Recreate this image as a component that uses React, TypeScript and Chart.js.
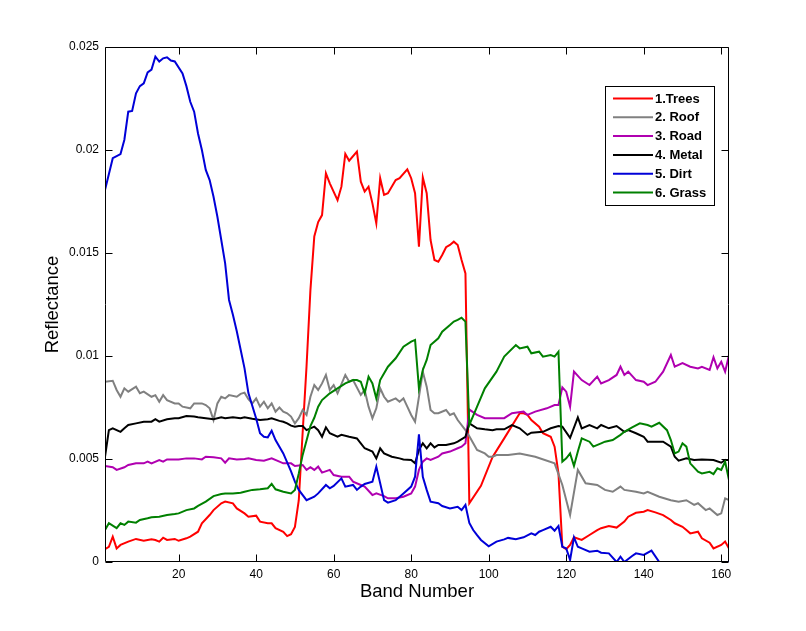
import React, { useEffect, useRef } from "react";
import { Chart, registerables } from "chart.js";

Chart.register(...registerables);

// ---- data (band number, reflectance) ----
const X_TICKS = [20, 40, 60, 80, 100, 120, 140, 160];
const Y_TICKS = [0, 0.005, 0.01, 0.015, 0.02, 0.025];
const X_LABEL = "Band Number";
const Y_LABEL = "Reflectance";
const SERIES_NAMES = ["1.Trees", "2. Roof", "3. Road", "4. Metal", "5. Dirt", "6. Grass"];
const SERIES_COLORS = ["#ff0000", "#808080", "#b000b0", "#000000", "#0000d8", "#008000"];

const TREES: [number, number][] = [
  [1, 0.00062], [2, 0.00074], [3, 0.00123], [4, 0.00066], [5, 0.00083], [7, 0.00099], [9, 0.00112], [11, 0.00103],
  [13, 0.0011], [14, 0.00107], [15, 0.00099], [16, 0.00118], [17, 0.00107], [19, 0.00112], [20, 0.00103], [22, 0.00115],
  [23, 0.00123], [25, 0.00147], [26, 0.00188], [28, 0.00228], [29, 0.00252], [31, 0.00285], [32, 0.00293], [34, 0.00285],
  [35, 0.0026], [37, 0.00236], [38, 0.0022], [40, 0.00225], [41, 0.00196], [43, 0.00188], [44, 0.00188], [45, 0.00164],
  [47, 0.00147], [48, 0.00126], [49, 0.00135], [50, 0.0017], [51, 0.003], [52, 0.0063], [53, 0.0095], [54, 0.0132],
  [55, 0.0158], [56, 0.0165], [57, 0.01684], [58, 0.01887], [59, 0.01838], [61, 0.01757], [62, 0.01822], [63, 0.01981],
  [64, 0.01948], [66, 0.01992], [67, 0.01846], [68, 0.01798], [69, 0.01822], [70, 0.01741], [71, 0.01644], [72, 0.01863],
  [73, 0.01782], [74, 0.0179], [76, 0.01854], [77, 0.01863], [79, 0.01906], [80, 0.01863], [81, 0.0179], [82, 0.01531],
  [83, 0.01867], [84, 0.0179], [85, 0.01563], [86, 0.01466], [87, 0.01458], [88, 0.0149], [89, 0.01528], [90, 0.01539],
  [91, 0.01555], [92, 0.01539], [93, 0.01466], [94, 0.01401], [95, 0.00285], [98, 0.0037], [101, 0.0051], [104, 0.006],
  [108, 0.00722], [109, 0.00722], [110, 0.00714], [111, 0.00689], [113, 0.00657], [114, 0.00625], [116, 0.00608], [117, 0.0056],
  [118, 0.0043], [119, 0.00074], [120, 0.00062], [121, 0.00083], [122, 0.0012], [124, 0.00107], [126, 0.00131], [128, 0.00155],
  [129, 0.00164], [131, 0.00175], [133, 0.00167], [135, 0.00196], [136, 0.0022], [138, 0.00239], [140, 0.00244], [141, 0.00252],
  [143, 0.00241], [145, 0.00228], [147, 0.00204], [148, 0.00188], [150, 0.00171], [151, 0.00155], [152, 0.00139], [154, 0.00147],
  [155, 0.00115], [157, 0.00094], [158, 0.00066], [160, 0.00083], [161, 0.00099], [162, 0.00066],
];

const ROOF: [number, number][] = [
  [1, 0.00875], [3, 0.0088], [4, 0.00835], [5, 0.00802], [6, 0.00843], [7, 0.00827], [9, 0.00851], [10, 0.00819],
  [11, 0.00827], [13, 0.00802], [14, 0.0081], [15, 0.00778], [16, 0.0081], [17, 0.00786], [19, 0.0077], [20, 0.0077],
  [21, 0.00754], [23, 0.00746], [24, 0.0077], [26, 0.0077], [27, 0.00762], [28, 0.00746], [29, 0.00689], [30, 0.0077],
  [31, 0.00802], [32, 0.00794], [33, 0.0081], [35, 0.00802], [36, 0.00816], [37, 0.00822], [38, 0.0079], [39, 0.0077],
  [40, 0.00794], [41, 0.00754], [42, 0.00778], [43, 0.00746], [44, 0.0077], [45, 0.0073], [46, 0.0075], [47, 0.0073],
  [48, 0.00722], [49, 0.00706], [50, 0.00673], [51, 0.00698], [52, 0.00738], [53, 0.00714], [54, 0.00802], [55, 0.00859],
  [56, 0.00835], [57, 0.00867], [58, 0.00908], [59, 0.00835], [60, 0.00859], [61, 0.00819], [63, 0.00908], [64, 0.00875],
  [65, 0.00883], [67, 0.00811], [68, 0.00835], [69, 0.00754], [70, 0.00698], [71, 0.00746], [72, 0.00843], [73, 0.00802],
  [74, 0.00778], [76, 0.00794], [77, 0.00778], [78, 0.00794], [79, 0.00754], [80, 0.00714], [81, 0.00681], [82, 0.00802],
  [83, 0.00924], [84, 0.00851], [85, 0.00738], [86, 0.00722], [87, 0.00722], [89, 0.00738], [90, 0.00714], [91, 0.00722],
  [92, 0.00689], [94, 0.0064], [95, 0.0061], [97, 0.00544], [99, 0.00527], [100, 0.00511], [101, 0.00511], [102, 0.00519],
  [105, 0.00519], [108, 0.00527], [112, 0.00511], [117, 0.00479], [119, 0.00374], [121, 0.00228], [123, 0.00447], [125, 0.00382],
  [128, 0.00374], [130, 0.0035], [132, 0.00341], [134, 0.00366], [135, 0.0035], [138, 0.00341], [140, 0.00333], [141, 0.00341],
  [144, 0.00317], [147, 0.003], [149, 0.00293], [151, 0.003], [153, 0.00277], [154, 0.00285], [156, 0.00252], [157, 0.0026],
  [159, 0.00228], [160, 0.00236], [161, 0.00309], [162, 0.003],
];

const ROAD: [number, number][] = [
  [1, 0.00466], [3, 0.0046], [4, 0.00447], [6, 0.0046], [7, 0.00471], [9, 0.00479], [11, 0.00479], [12, 0.00487],
  [13, 0.00479], [15, 0.00495], [16, 0.00487], [17, 0.00498], [20, 0.00498], [22, 0.00503], [24, 0.00503], [26, 0.00498],
  [27, 0.00511], [29, 0.00508], [31, 0.00503], [32, 0.00482], [33, 0.00503], [35, 0.00498], [37, 0.005], [38, 0.00503],
  [40, 0.00495], [42, 0.00492], [44, 0.00503], [46, 0.00487], [47, 0.00479], [49, 0.00479], [50, 0.00466], [52, 0.00471],
  [53, 0.00447], [54, 0.0046], [55, 0.00447], [56, 0.00463], [57, 0.00434], [59, 0.00447], [60, 0.00422], [62, 0.00414],
  [64, 0.00414], [65, 0.0039], [67, 0.00374], [68, 0.00366], [70, 0.00325], [71, 0.00333], [73, 0.0032], [74, 0.00309],
  [76, 0.00309], [78, 0.00317], [80, 0.00333], [81, 0.00366], [82, 0.00447], [83, 0.00487], [84, 0.00503], [85, 0.00495],
  [87, 0.00511], [88, 0.00527], [90, 0.00536], [92, 0.00552], [93, 0.0056], [94, 0.00576], [95, 0.0074], [97, 0.00714],
  [99, 0.00698], [104, 0.00698], [106, 0.00722], [109, 0.0073], [110, 0.00714], [112, 0.0073], [115, 0.00746], [117, 0.00762],
  [118, 0.00762], [119, 0.00848], [120, 0.00827], [121, 0.00754], [122, 0.00924], [124, 0.00883], [126, 0.00859], [128, 0.009],
  [129, 0.00867], [131, 0.00883], [133, 0.00908], [134, 0.00948], [135, 0.00908], [136, 0.00924], [138, 0.00883], [140, 0.00875],
  [141, 0.00859], [143, 0.00875], [145, 0.00924], [147, 0.01005], [148, 0.00948], [150, 0.00965], [152, 0.00948], [154, 0.0094],
  [155, 0.00948], [157, 0.00932], [158, 0.00994], [159, 0.0094], [160, 0.00972], [161, 0.00924], [162, 0.01005],
];

const METAL: [number, number][] = [
  [1, 0.00511], [2, 0.0064], [3, 0.00649], [5, 0.00632], [6, 0.00649], [7, 0.00665], [9, 0.00673], [11, 0.00681],
  [13, 0.00681], [14, 0.00693], [15, 0.00681], [17, 0.00693], [19, 0.00698], [20, 0.00698], [22, 0.00709], [24, 0.00706],
  [25, 0.00703], [27, 0.00698], [29, 0.00693], [31, 0.00703], [32, 0.00698], [34, 0.00703], [36, 0.00698], [37, 0.00703],
  [39, 0.00695], [41, 0.00689], [43, 0.00693], [44, 0.00698], [46, 0.00685], [47, 0.00681], [48, 0.00673], [49, 0.00662],
  [50, 0.00657], [51, 0.0066], [52, 0.0066], [53, 0.0064], [55, 0.00657], [56, 0.0064], [57, 0.00608], [58, 0.00654],
  [59, 0.00625], [61, 0.00608], [62, 0.00617], [64, 0.00608], [66, 0.006], [67, 0.00576], [68, 0.00552], [70, 0.00536],
  [71, 0.00503], [72, 0.00552], [73, 0.00527], [75, 0.00511], [77, 0.00503], [78, 0.00498], [80, 0.00495], [81, 0.00479],
  [82, 0.00544], [83, 0.00576], [84, 0.00552], [85, 0.00576], [86, 0.00556], [87, 0.00568], [89, 0.00568], [91, 0.00576],
  [92, 0.00584], [94, 0.00608], [95, 0.00673], [97, 0.00649], [99, 0.00644], [101, 0.0064], [102, 0.00644], [104, 0.00644],
  [106, 0.00665], [108, 0.00649], [110, 0.00617], [111, 0.00628], [114, 0.00632], [116, 0.00649], [118, 0.0066], [119, 0.00657],
  [121, 0.00603], [123, 0.00702], [124, 0.00649], [126, 0.00665], [128, 0.00649], [129, 0.00665], [131, 0.00649], [133, 0.0066],
  [135, 0.00632], [136, 0.0064], [138, 0.00625], [140, 0.00608], [141, 0.00584], [143, 0.00584], [145, 0.00584], [147, 0.0056],
  [148, 0.00511], [149, 0.00492], [151, 0.00503], [153, 0.00495], [155, 0.00498], [158, 0.00495], [160, 0.00482], [161, 0.00495],
  [162, 0.00495],
];

const DIRT: [number, number][] = [
  [1, 0.01806], [3, 0.0196], [5, 0.0198], [6, 0.0205], [7, 0.02186], [8, 0.0219], [9, 0.02275], [10, 0.0231],
  [11, 0.02324], [12, 0.02377], [13, 0.0239], [14, 0.02453], [15, 0.02429], [16, 0.02445], [17, 0.0245], [18, 0.02434],
  [19, 0.0243], [21, 0.02372], [22, 0.0231], [23, 0.02234], [24, 0.02186], [25, 0.0208], [26, 0.02], [27, 0.01903],
  [28, 0.01854], [29, 0.01773], [30, 0.01676], [31, 0.01563], [32, 0.0145], [33, 0.01272], [34, 0.012], [35, 0.0112],
  [36, 0.0103], [37, 0.0094], [38, 0.0082], [40, 0.00697], [41, 0.00625], [42, 0.00608], [43, 0.00605], [44, 0.00637],
  [45, 0.00592], [47, 0.00527], [49, 0.0044], [50, 0.0039], [51, 0.0035], [53, 0.003], [55, 0.00317], [56, 0.00333],
  [58, 0.00374], [59, 0.00358], [60, 0.00369], [62, 0.00406], [63, 0.00366], [65, 0.00374], [66, 0.0035], [67, 0.00366],
  [68, 0.00379], [70, 0.0039], [71, 0.00463], [72, 0.00382], [73, 0.003], [74, 0.00288], [76, 0.003], [78, 0.00333],
  [80, 0.00366], [81, 0.00414], [82, 0.0062], [83, 0.00414], [84, 0.0035], [85, 0.00293], [87, 0.00285], [88, 0.00272],
  [90, 0.0026], [92, 0.00268], [93, 0.00252], [94, 0.00277], [95, 0.0019], [96, 0.00155], [97, 0.0013], [98, 0.00107],
  [100, 0.00076], [102, 0.00099], [104, 0.0011], [105, 0.00117], [107, 0.0011], [109, 0.0012], [111, 0.00139], [112, 0.00131],
  [113, 0.00147], [114, 0.00155], [116, 0.00171], [117, 0.00152], [118, 0.00175], [119, 0.00074], [120, 0.00066], [121, 0.0001],
  [122, 0.0012], [123, 0.00074], [124, 0.00066], [126, 0.0005], [128, 0.00055], [129, 0.00045], [131, 0.00042], [133, 0],
  [134, 0.00026], [135, 0], [137, 0.00029], [138, 0.00042], [140, 0.00034], [142, 0.00055], [144, 0], [150, 0],
  [156, 0], [162, 0],
];

const GRASS: [number, number][] = [
  [1, 0.00155], [2, 0.00188], [4, 0.00164], [5, 0.00188], [6, 0.0018], [7, 0.00196], [9, 0.00191], [10, 0.00204],
  [12, 0.00212], [13, 0.00217], [15, 0.0022], [17, 0.00228], [19, 0.00233], [20, 0.00236], [22, 0.00252], [24, 0.0026],
  [25, 0.00272], [27, 0.00293], [29, 0.0032], [31, 0.0033], [32, 0.00333], [34, 0.00333], [36, 0.00336], [37, 0.00341],
  [39, 0.0035], [41, 0.00353], [43, 0.00358], [44, 0.00379], [45, 0.00353], [47, 0.00341], [49, 0.00333], [50, 0.0035],
  [51, 0.0043], [52, 0.0052], [54, 0.0066], [55, 0.007], [56, 0.00754], [57, 0.00786], [59, 0.00819], [61, 0.00843],
  [63, 0.00867], [65, 0.00883], [66, 0.00883], [67, 0.00875], [68, 0.00819], [69, 0.009], [70, 0.00867], [71, 0.00794],
  [72, 0.00883], [74, 0.00948], [76, 0.00989], [78, 0.01045], [80, 0.0107], [81, 0.01078], [82, 0.00843], [83, 0.00932],
  [84, 0.00981], [85, 0.01053], [87, 0.01086], [88, 0.01118], [90, 0.0115], [91, 0.01167], [92, 0.01175], [93, 0.01186],
  [94, 0.01167], [95, 0.00665], [97, 0.00754], [99, 0.00843], [102, 0.00924], [104, 0.00997], [107, 0.01053], [108, 0.01037],
  [110, 0.01045], [111, 0.01013], [113, 0.01021], [114, 0.00997], [116, 0.01005], [117, 0.00997], [118, 0.01021], [119, 0.00487],
  [120, 0.00503], [121, 0.00527], [122, 0.00466], [123, 0.00536], [124, 0.006], [126, 0.00584], [127, 0.0056], [129, 0.00576],
  [130, 0.00584], [132, 0.00592], [134, 0.00617], [135, 0.00632], [137, 0.00654], [139, 0.00673], [141, 0.00665], [142, 0.00657],
  [144, 0.00676], [146, 0.0064], [147, 0.00592], [148, 0.00527], [149, 0.00536], [150, 0.00576], [151, 0.0056], [152, 0.00479],
  [154, 0.00438], [155, 0.0043], [157, 0.00438], [158, 0.00427], [159, 0.00455], [160, 0.00447], [161, 0.00487], [162, 0.00398],
];

const SERIES_DATA = [TREES, ROOF, ROAD, METAL, DIRT, GRASS];

const FONT = "'Liberation Sans', Arial, Helvetica, sans-serif";

const frameAndLegend = {
  id: "frameAndLegend",
  afterDraw(chart: any) {
    const { ctx, chartArea: a, scales } = chart;
    const xs = scales.x;
    const ys = scales.y;
    ctx.save();
    ctx.strokeStyle = "#000";
    ctx.lineWidth = 1;
    // axes box
    const L = Math.round(a.left) + 0.5;
    const R = Math.round(a.right) - 0.5;
    const T = Math.round(a.top) + 0.5;
    const B = Math.round(a.bottom) - 0.5;
    ctx.beginPath();
    ctx.rect(L, T, R - L, B - T);
    // inward ticks
    const TL = 7;
    for (const t of xs.ticks) {
      const px = Math.round(xs.getPixelForValue(t.value)) + 0.5;
      ctx.moveTo(px, B);
      ctx.lineTo(px, B - TL);
      ctx.moveTo(px, T);
      ctx.lineTo(px, T + TL);
    }
    for (const t of ys.ticks) {
      const py = Math.round(ys.getPixelForValue(t.value)) + 0.5;
      ctx.moveTo(L, py);
      ctx.lineTo(L + TL, py);
      ctx.moveTo(R, py);
      ctx.lineTo(R - TL, py);
    }
    ctx.stroke();

    // legend box
    const boxL = a.right - 124;
    const boxT = a.top + 39;
    const boxW = 109;
    const boxH = 119;
    ctx.fillStyle = "#fff";
    ctx.fillRect(boxL, boxT, boxW, boxH);
    ctx.strokeRect(Math.round(boxL) + 0.5, Math.round(boxT) + 0.5, boxW, boxH);
    ctx.font = `bold 13px ${FONT}`;
    ctx.textBaseline = "middle";
    ctx.textAlign = "left";
    chart.data.datasets.forEach((ds: any, i: number) => {
      const cy = boxT + 12.5 + i * 18.8;
      ctx.strokeStyle = ds.borderColor;
      ctx.lineWidth = 2;
      ctx.beginPath();
      ctx.moveTo(boxL + 8, cy);
      ctx.lineTo(boxL + 48, cy);
      ctx.stroke();
      ctx.fillStyle = "#000";
      ctx.fillText(ds.label, boxL + 50, cy + 0.5);
    });
    ctx.restore();
  },
};

export default function App() {
  const ref = useRef<HTMLCanvasElement | null>(null);

  useEffect(() => {
    if (!ref.current) return;
    const datasets = SERIES_DATA.map((series, i) => ({
      label: SERIES_NAMES[i],
      data: series.map(([x, y]) => ({ x, y })),
      borderColor: SERIES_COLORS[i],
      backgroundColor: SERIES_COLORS[i],
      borderWidth: 2,
      pointRadius: 0,
      tension: 0,
      fill: false,
      order: SERIES_DATA.length - i,
    }));

    const chart = new Chart(ref.current, {
      type: "line",
      data: { datasets },
      plugins: [frameAndLegend],
      options: {
        animation: false,
        responsive: false,
        devicePixelRatio: 1,
        layout: { padding: { left: 0, top: 47, right: 77, bottom: 0 } },
        plugins: {
          legend: { display: false },
          tooltip: { enabled: false },
          title: { display: false },
        },
        scales: {
          x: {
            type: "linear",
            min: 1,
            max: 162,
            grid: { display: false, drawTicks: false },
            border: { display: false },
            afterBuildTicks: (scale: any) => {
              scale.ticks = X_TICKS.map((v) => ({ value: v }));
            },
            afterFit: (scale: any) => {
              scale.height = 69;
            },
            ticks: {
              padding: 5,
              color: "#000",
              font: { family: FONT, size: 12 },
              maxRotation: 0,
              autoSkip: false,
              callback: (v: any) => String(v),
            },
            title: {
              display: true,
              text: X_LABEL,
              color: "#000",
              font: { family: FONT, size: 18.5 },
              padding: { top: 0, bottom: 28 },
            },
          },
          y: {
            type: "linear",
            min: 0,
            max: 0.025,
            grid: { display: false, drawTicks: false },
            border: { display: false },
            afterBuildTicks: (scale: any) => {
              scale.ticks = Y_TICKS.map((v) => ({ value: v }));
            },
            afterFit: (scale: any) => {
              scale.width = 105;
            },
            ticks: {
              padding: 6,
              color: "#000",
              font: { family: FONT, size: 12 },
              autoSkip: false,
              callback: (v: any) => String(Number(Number(v).toFixed(4))),
            },
            title: {
              display: true,
              text: Y_LABEL,
              color: "#000",
              font: { family: FONT, size: 18.5 },
              padding: { top: 42, bottom: 0 },
            },
          },
        },
      },
    });
    return () => chart.destroy();
  }, []);

  return (
    <div style={{ position: "absolute", left: 0, top: 0, width: 806, height: 631, background: "#fff" }}>
      <canvas ref={ref} width={806} height={631} style={{ display: "block", width: 806, height: 631 }} />
    </div>
  );
}
